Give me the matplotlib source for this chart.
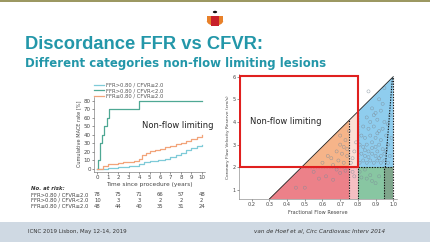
import numpy as np
import matplotlib

matplotlib.use("Agg")

import matplotlib.pyplot as plt
import matplotlib.transforms as mtransforms
from matplotlib.patches import Rectangle, Wedge, Circle

plt.rcParams["font.family"] = ["DejaVu Sans"]

TEAL = "#2397a9"

# ---- left chart: cumulative MACE (Kaplan-Meier steps) ----
km_labels = ["FFR>0.80 / CFVR\u22652.0", "FFR>0.80 / CFVR<2.0", "FFR\u22640.80 / CFVR\u22652.0"]
km_colors = ["#7fcbd8", "#4fa894", "#f2a47a"]

t_hi_hi = [0, 1.0, 2.0, 3.0, 4.0, 4.5, 5.0, 5.8, 6.5, 7.0, 7.5, 8.0, 8.5, 9.0, 9.5, 10]
mace_hi_hi = [0, 1, 2, 4, 6, 8, 9, 10, 12, 14, 17, 19, 22, 25, 27, 28]

t_hi_lo = [0, 0.05, 0.3, 0.4, 0.6, 0.9, 1.1, 4.0, 10]
mace_hi_lo = [0, 10, 30, 40, 50, 60, 70, 80, 80]

t_lo_hi = [0, 0.5, 1.0, 2.0, 2.5, 3.5, 4.0, 4.3, 4.7, 5.0, 5.5, 6.0, 6.5, 7.0, 7.5, 8.0, 8.5, 9.0, 9.5, 10]
mace_lo_hi = [0, 4, 6, 7, 8, 9, 12, 16, 19, 21, 22, 24, 26, 27, 29, 30, 33, 35, 38, 40]

risk_times = [0, 2, 4, 6, 8, 10]
risk_rows = [
    ("FFR>0.80 / CFVR\u22652.0", [78, 75, 71, 66, 57, 48]),
    ("FFR>0.80 / CFVR<2.0", [10, 3, 3, 2, 2, 2]),
    ("FFR\u22640.80 / CFVR\u22652.0", [48, 44, 40, 35, 31, 24]),
]

# ---- right chart: FFR vs CFVR ----
diag_x = [0.3, 1.0]
diag_y = [0.6, 6.0]
ffr_grey = 0.75
ffr_cut = 0.80
ffr_hi = 0.95
cfvr_cut = 2.0

pts_x = [0.86, 0.95, 0.92, 0.88, 0.90, 0.93, 0.85, 0.87, 0.91, 0.95, 0.83, 0.86, 0.89, 0.92, 0.94,
         0.97, 0.82, 0.84, 0.87, 0.90, 0.93, 0.96, 0.81, 0.83, 0.85, 0.88, 0.90, 0.92, 0.94, 0.97,
         0.82, 0.84, 0.86, 0.88, 0.90, 0.91, 0.93, 0.95, 0.98, 0.81, 0.83, 0.85, 0.87, 0.89, 0.91,
         0.93, 0.95, 0.97, 0.86, 0.88, 0.92, 0.84, 0.96, 0.99, 0.98, 0.94, 0.89, 0.91,
         0.75, 0.73, 0.70, 0.72, 0.68, 0.71, 0.74, 0.65, 0.69, 0.72, 0.60, 0.63, 0.66, 0.74, 0.70,
         0.77, 0.78, 0.76, 0.79, 0.77, 0.78,
         0.45, 0.50, 0.58, 0.62, 0.66, 0.70, 0.73, 0.55, 0.68,
         0.82, 0.85, 0.88, 0.87, 0.90, 0.92, 0.81, 0.84]
pts_y = [5.35, 5.5, 5.0, 4.6, 4.4, 4.5, 4.2, 4.0, 4.1, 4.0, 3.8, 3.7, 3.8, 3.6, 3.7,
         3.9, 3.4, 3.3, 3.4, 3.3, 3.2, 3.4, 3.0, 2.9, 3.0, 3.1, 2.9, 3.0, 2.8, 3.0,
         2.6, 2.5, 2.7, 2.6, 2.5, 2.7, 2.5, 2.6, 2.5, 2.2, 2.3, 2.2, 2.3, 2.2, 2.3,
         2.2, 2.3, 2.2, 2.45, 2.85, 2.4, 2.75, 2.75, 3.3, 4.3, 4.8, 4.3, 3.5,
         3.6, 3.2, 3.0, 2.9, 2.7, 2.6, 2.5, 2.4, 2.3, 2.2, 2.2, 2.5, 2.1, 2.8, 3.4,
         2.4, 2.7, 2.2, 3.1, 1.8, 1.6,
         1.1, 1.1, 1.5, 1.6, 1.45, 1.75, 1.85, 1.8, 1.9,
         1.55, 1.5, 1.4, 1.65, 1.3, 1.6, 1.8, 1.9]

fig = plt.figure(figsize=(4.3, 2.42), dpi=100)
fig.patch.set_facecolor("white")


def px(x, y):
    return x / 430, 1 - y / 242


# slide decoration
fig.patches.append(Rectangle((0, 1 - 2 / 242), 1, 2 / 242, transform=fig.transFigure,
                             facecolor="#9c9862", edgecolor="none"))
fig.patches.append(Rectangle((0, 0), 1, 20 / 242, transform=fig.transFigure,
                             facecolor="#cfd9e3", edgecolor="none"))
lx, ly = px(215, 21)
fig.patches.append(Wedge((lx, ly), 0.019, 180, 360, transform=fig.transFigure,
                         facecolor="#e8812a", edgecolor="none"))
fig.patches.append(Rectangle((lx - 0.019, ly), 0.038, 0.022, transform=fig.transFigure,
                             facecolor="#e8812a", edgecolor="none"))
fig.patches.append(Rectangle((lx - 0.009, ly - 0.02), 0.018, 0.04, transform=fig.transFigure,
                             facecolor="#c8202a", edgecolor="none"))
fig.patches.append(Circle(px(215, 12), 0.005, transform=fig.transFigure,
                          facecolor="#111111", edgecolor="none"))

fig.text(*px(25, 44), "Discordance FFR vs CFVR:", fontsize=13.2, fontweight="bold",
         family=["Liberation Sans", "DejaVu Sans"], color=TEAL, va="center", ha="left")
fig.text(*px(25, 64), "Different categories non-flow limiting lesions", fontsize=8.5,
         fontweight="bold", color=TEAL, va="center", ha="left")

# ---- left axes ----
ax1 = fig.add_axes([94.2 / 430, 1 - 171.5 / 242, 110.7 / 430, 74.75 / 242])
ax1.step(t_hi_hi, mace_hi_hi, where="post", color=km_colors[0], lw=0.9, label=km_labels[0])
ax1.step(t_hi_lo, mace_hi_lo, where="post", color=km_colors[1], lw=0.9, label=km_labels[1])
ax1.step(t_lo_hi, mace_lo_hi, where="post", color=km_colors[2], lw=0.9, label=km_labels[2])
ax1.set_xlim(-0.3, 10.3)
ax1.set_ylim(-3, 85)
ax1.set_xticks(range(0, 11))
ax1.set_yticks(range(0, 81, 10))
ax1.tick_params(labelsize=4, length=1.5, width=0.4, pad=1, colors="#444444")
for s in ["top", "right"]:
    ax1.spines[s].set_visible(False)
for s in ["left", "bottom"]:
    ax1.spines[s].set_linewidth(0.4)
    ax1.spines[s].set_color("#666666")
ax1.set_ylabel("Cumulative MACE rate [%]", fontsize=3.6, labelpad=2, color="#444444")
ax1.set_xlabel("Time since procedure (years)", fontsize=4.2, labelpad=1.5, color="#444444")
ax1.legend(loc="lower left", bbox_to_anchor=(0.0, 0.97), fontsize=3.8, frameon=False,
           handlelength=1.8, handletextpad=0.4, labelspacing=0.15, borderpad=0,
           borderaxespad=0, labelcolor="#555555")
ax1.text(0.43, 0.62, "Non-flow limiting", transform=ax1.transAxes, fontsize=6,
         color="#222222", ha="left", va="center")

fig.text(*px(31, 189), "No. at risk:", fontsize=3.9, fontweight="bold", fontstyle="italic",
         color="#333333", va="center")
blend = mtransforms.blended_transform_factory(ax1.transData, fig.transFigure)
for i, (lab, vals) in enumerate(risk_rows):
    yy = 195 + i * 5.5
    fig.text(*px(31, yy), lab, fontsize=3.8, color="#444444", va="center")
    for t, v in zip(risk_times, vals):
        fig.text(t, 1 - yy / 242, str(v), transform=blend, fontsize=3.8, color="#444444",
                 va="center", ha="center")

# ---- right axes ----
ax2 = fig.add_axes([239.3 / 430, 1 - 199.0 / 242, 157.5 / 430, 124.6 / 242])
xlo, xhi = 0.13, 1.02
ylo, yhi = 0.6, 6.1


def diag(x):
    return np.interp(x, diag_x, diag_y)


x_at2 = np.interp(cfvr_cut, diag_y, diag_x)
# red: below cutoff CFVR, FFR <= 0.75
ax2.fill([diag_x[0], ffr_grey, ffr_grey, x_at2], [ylo, ylo, cfvr_cut, cfvr_cut],
         color="#ec8189", lw=0)
# orange: above CFVR cutoff, FFR <= 0.75
ax2.fill([x_at2, ffr_grey, ffr_grey], [cfvr_cut, cfvr_cut, diag(ffr_grey)],
         color="#f6b489", lw=0)
# grey zone strip
ax2.fill([ffr_grey, ffr_cut, ffr_cut, ffr_grey], [ylo, ylo, cfvr_cut, cfvr_cut],
         color="#f5bfc3", lw=0)
ax2.fill([ffr_grey, ffr_cut, ffr_cut, ffr_grey], [cfvr_cut, cfvr_cut, diag(ffr_cut), diag(ffr_grey)],
         color="#fbe0d6", lw=0)
# blue: FFR > 0.80, CFVR >= 2
ax2.fill([ffr_cut, diag_x[1], diag_x[1], ffr_cut], [cfvr_cut, cfvr_cut, diag_y[1], diag(ffr_cut)],
         color="#8fcdee", lw=0)
# green: FFR > 0.80, CFVR < 2
ax2.fill([ffr_cut, ffr_hi, ffr_hi, ffr_cut], [ylo, ylo, cfvr_cut, cfvr_cut],
         color="#88c6a2", lw=0)
ax2.fill([ffr_hi, diag_x[1], diag_x[1], ffr_hi], [ylo, ylo, cfvr_cut, cfvr_cut],
         color="#7fa68c", lw=0)

ax2.scatter(pts_x, pts_y, s=5, facecolors="none", edgecolors="#7d8c98", linewidths=0.35,
            alpha=0.8, zorder=3)

ax2.plot(diag_x, diag_y, color="#222222", lw=0.6, zorder=4)
dash = dict(color="#111111", lw=0.8, ls=(0, (1.2, 1.2)), zorder=4)
ax2.plot([ffr_grey, ffr_grey], [ylo, diag(ffr_grey)], **dash)
ax2.plot([ffr_cut, ffr_cut], [ylo, diag(ffr_cut)], **dash)
ax2.plot([ffr_hi, ffr_hi], [ylo, cfvr_cut], **dash)
ax2.plot([ffr_hi + 0.005, 0.995], [cfvr_cut, 5.93], **dash)
ax2.plot([diag_x[1], diag_x[1]], [ylo, diag_y[1]], **dash)
ax2.plot([x_at2, diag_x[1]], [cfvr_cut, cfvr_cut], **dash)

ax2.add_patch(Rectangle((xlo + 0.005, cfvr_cut), ffr_cut - xlo - 0.005, 6.03 - cfvr_cut,
                        fill=False, edgecolor="#e0201f", lw=1.5, zorder=5))
ax2.text(0.19, 4.0, "Non-flow limiting", fontsize=6, color="#222222", ha="left", va="center",
         zorder=6)

ax2.set_xlim(xlo, xhi)
ax2.set_ylim(ylo, yhi)
ax2.set_xticks([0.2, 0.3, 0.4, 0.5, 0.6, 0.7, 0.8, 0.9, 1.0])
ax2.set_xticklabels(["0.2", "0.3", "0.4", "0.5", "0.6", "0.7", "0.8", "0.9", "1.0"])
ax2.set_yticks([1, 2, 3, 4, 5, 6])
ax2.tick_params(labelsize=3.6, length=1.5, width=0.4, pad=1, colors="#444444")
for s in ["top", "right"]:
    ax2.spines[s].set_visible(False)
for s in ["left", "bottom"]:
    ax2.spines[s].set_linewidth(0.4)
    ax2.spines[s].set_color("#777777")
ax2.set_xlabel("Fractional Flow Reserve", fontsize=3.6, labelpad=1.5, color="#444444")
ax2.set_ylabel("Coronary Flow Velocity Reserve (cm/s)", fontsize=3.2, labelpad=2, color="#444444")

# footer
fig.text(*px(28, 232), "ICNC 2019 Lisbon, May 12-14, 2019", fontsize=4.0, color="#333333",
         va="center")
fig.text(*px(385, 232), "van de Hoef et al, Circ Cardiovasc Interv 2014", fontsize=4.1,
         fontstyle="italic", color="#333333", va="center", ha="right")

fig.savefig("out.png", dpi=100, facecolor=fig.get_facecolor())
